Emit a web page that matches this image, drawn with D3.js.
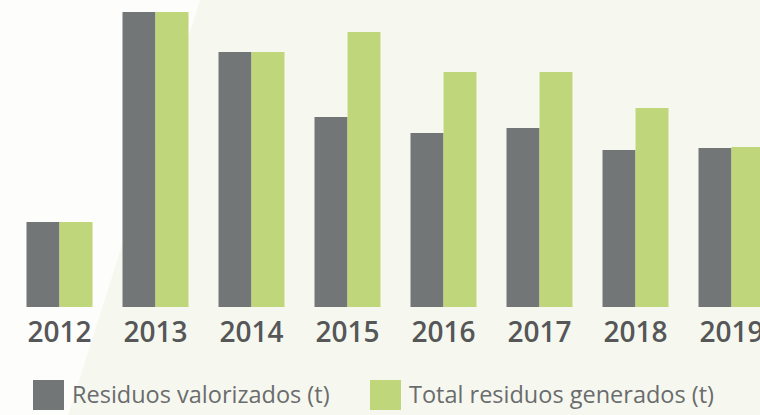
<!DOCTYPE html>
<meta charset="utf-8">
<style>
body { margin: 0; }
svg { display: block; }
.year { font-family: "Open Sans", sans-serif; font-weight: 600; fill: #555758; }
.legend text { font-family: "Open Sans", sans-serif; fill: #6a6c6d; }
</style>
<svg width="760" height="415"></svg>
<script src="https://d3js.org/d3.v7.min.js"></script>
<script>

var years = ["2012", "2013", "2014", "2015", "2016", "2017", "2018", "2019"];
var valorizados = [85, 295, 255, 190, 174, 179, 157, 159];
var generados = [85, 295, 255, 275, 235, 235, 199, 160];
var seriesNames = ["Residuos valorizados (t)", "Total residuos generados (t)"];
var colors = ["#737677", "#c0d67a"];

var svg = d3.select("svg"),
    width = +svg.attr("width"),
    height = +svg.attr("height"),
    baseline = 307;

// background: white on the left, pale green behind a slanted edge
svg.append("rect").attr("width", width).attr("height", height).attr("fill", "#fdfdfb");
svg.append("path")
    .attr("d", "M200,0L" + width + ",0L" + width + "," + height + "L68," + height + "Z")
    .attr("fill", "#f6f8f0");

var x = d3.scaleBand().domain(years).range([11.5, 779.5])
    .paddingInner(0.3125).paddingOuter(0.15625);
var xs = d3.scaleBand().domain([0, 1]).range([0, x.bandwidth()]);
var y = d3.scaleLinear().domain([0, 300]).range([baseline, 7]);

var rows = years.map(function(yr, i) {
  return { year: yr, values: [valorizados[i], generados[i]] };
});

var groups = svg.selectAll(".grp")
    .data(rows)
    .enter().append("g")
    .attr("class", "grp")
    .attr("transform", function(d) { return "translate(" + x(d.year) + ",0)"; });

groups.selectAll("rect")
    .data(function(d) { return d.values; })
    .enter().append("rect")
    .attr("x", function(d, i) { return xs(i); })
    .attr("y", function(d) { return y(d); })
    .attr("width", xs.bandwidth())
    .attr("height", function(d) { return baseline - y(d); })
    .attr("fill", function(d, i) { return colors[i]; });

svg.selectAll(".year")
    .data(years)
    .enter().append("text")
    .attr("class", "year")
    .attr("x", function(d) { return x(d) + x.bandwidth() / 2; })
    .attr("y", 342)
    .attr("text-anchor", "middle")
    .attr("font-size", 28)
    .text(function(d) { return d; });

var legX = [33, 370];
var legend = svg.selectAll(".legend")
    .data(seriesNames)
    .enter().append("g")
    .attr("class", "legend")
    .attr("transform", function(d, i) { return "translate(" + legX[i] + ",380)"; });

legend.append("rect")
    .attr("width", 31).attr("height", 30)
    .attr("fill", function(d, i) { return colors[i]; });

legend.append("text")
    .attr("x", 39).attr("y", 23)
    .attr("font-size", 23.5)
    .text(function(d) { return d; });

</script>
